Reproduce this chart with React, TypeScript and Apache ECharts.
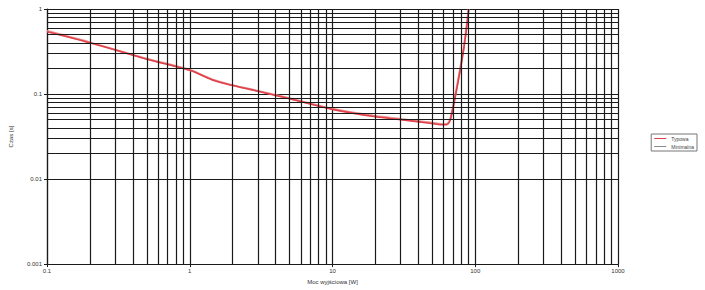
import React, { useEffect, useRef } from "react";
import * as echarts from "echarts";

const powerW = [0.1, 0.2, 0.5, 1, 1.5, 2, 3, 5, 10, 20, 30, 45, 60, 64, 67, 72, 78, 83, 87, 90];
const timeTypical = [0.54, 0.4, 0.257, 0.19, 0.143, 0.126, 0.108, 0.088, 0.066, 0.054, 0.05, 0.046, 0.0435, 0.044, 0.05, 0.088, 0.181, 0.335, 0.6, 1.0];
const timeSecond = [0.55, 0.405, 0.26, 0.192, 0.145, 0.127, 0.109, 0.089, 0.067, 0.055, 0.051, 0.047, 0.0442, 0.045, 0.052, 0.092, 0.19, 0.35, 0.63, 1.0];
const xMinor = [0.2, 0.3, 0.4, 0.5, 0.6, 0.7, 0.8, 0.9, 2, 3, 4, 5, 6, 7, 8, 9, 20, 30, 40, 50, 60, 70, 80, 90, 200, 300, 400, 500, 600, 700, 800, 900];
const yMinor = [0.002, 0.003, 0.004, 0.005, 0.006, 0.007, 0.008, 0.009, 0.02, 0.03, 0.04, 0.05, 0.06, 0.07, 0.08, 0.09, 0.2, 0.3, 0.4, 0.5, 0.6, 0.7, 0.8, 0.9];
const seriesNames = ["Typowa", "Minimalna"];

export default function App() {
  const ref = useRef<HTMLDivElement>(null);
  useEffect(() => {
    if (!ref.current) return;
    const chart = echarts.init(ref.current, undefined, { renderer: "svg" });
    const fmt = (v: number) => String(Number(v.toPrecision(6)));
    const gridColor = "#1a1a1a";
    chart.setOption({
      animation: false,
      textStyle: { fontFamily: "Liberation Sans, Arial, sans-serif" },
      grid: { left: 46, right: 87, top: 9, bottom: 22, containLabel: false },
      legend: {
        orient: "vertical",
        right: 8,
        top: 134,
        itemWidth: 12,
        itemHeight: 3,
        itemGap: 3,
        padding: [2, 3],
        borderColor: "#777",
        borderWidth: 1,
        textStyle: { fontSize: 5, color: "#444" },
        data: seriesNames.map((n) => ({ name: n, icon: "path://M0,0 L12,0 L12,1 L0,1 Z" })),
      },
      xAxis: {
        type: "log",
        logBase: 10,
        min: 0.1,
        max: 1000,
        name: "Moc wyjściowa [W]",
        nameLocation: "middle",
        nameGap: 12,
        nameTextStyle: { fontSize: 6, color: "#333" },
        axisLine: { show: true, lineStyle: { color: gridColor, width: 1.2 } },
        axisTick: { show: true, length: 3, lineStyle: { color: gridColor } },
        axisLabel: { fontSize: 6, color: "#333", margin: 4, formatter: fmt },
        splitLine: { show: true, lineStyle: { color: gridColor, width: 1.2 } },
      },
      yAxis: {
        type: "log",
        logBase: 10,
        min: 0.001,
        max: 1,
        name: "Czas [s]",
        nameLocation: "middle",
        nameGap: 33,
        nameTextStyle: { fontSize: 6, color: "#333" },
        axisLine: { show: true, lineStyle: { color: gridColor, width: 1.2 } },
        axisTick: { show: true, length: 3, lineStyle: { color: gridColor } },
        axisLabel: { fontSize: 6, color: "#333", margin: 5, formatter: fmt },
        splitLine: { show: true, lineStyle: { color: gridColor, width: 1.2 } },
      },
      series: [
        {
          name: "grid-minor",
          type: "line",
          data: [],
          silent: true,
          markLine: {
            silent: true,
            symbol: "none",
            label: { show: false },
            lineStyle: { color: gridColor, width: 1.2, type: "solid" },
            data: [
              ...xMinor.map((v) => ({ xAxis: v })),
              ...yMinor.map((v) => ({ yAxis: v })),
            ],
          },
        },
        {
          name: seriesNames[1],
          type: "line",
          data: powerW.map((x, i) => [x, timeSecond[i]]),
          smooth: 0.3,
          showSymbol: false,
          lineStyle: { color: "#e89090", width: 2 },
          itemStyle: { color: "#8a8a8a" },
        },
        {
          name: seriesNames[0],
          type: "line",
          data: powerW.map((x, i) => [x, timeTypical[i]]),
          smooth: 0.3,
          showSymbol: false,
          lineStyle: { color: "#e0404a", width: 1.6 },
          itemStyle: { color: "#e0404a" },
        },
      ],
    });
    return () => chart.dispose();
  }, []);
  return <div ref={ref} style={{ width: 705, height: 290, position: "absolute", left: 0, top: 0 }} />;
}
